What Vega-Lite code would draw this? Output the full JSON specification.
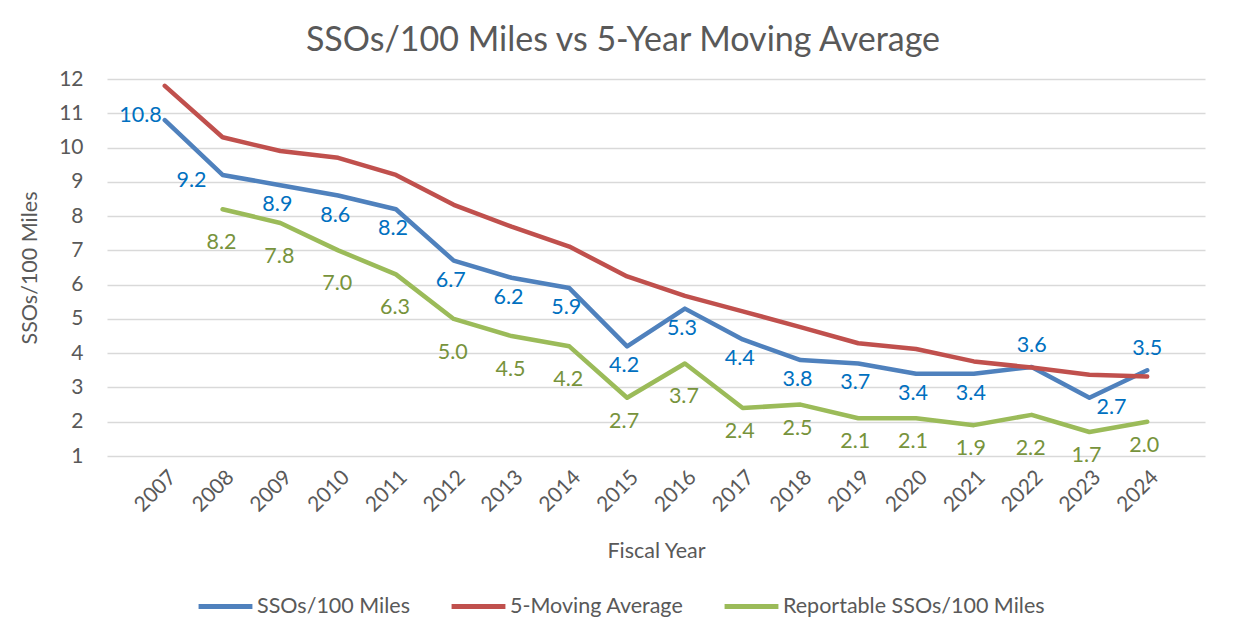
{
  "$schema": "https://vega.github.io/schema/vega-lite/v6.json",
  "width": 1098,
  "height": 377,
  "autosize": {"type": "none"},
  "padding": {"left": 107, "top": 79, "right": 42, "bottom": 188},
  "background": "white",
  "config": {
    "view": {"stroke": null},
    "font": "Lato",
    "text": {"font": "Lato"}
  },
  "title": {
    "text": "SSOs/100 Miles vs 5-Year Moving Average",
    "font": "Lato",
    "fontSize": 34,
    "fontWeight": "normal",
    "color": "#595959",
    "anchor": "middle",
    "dx": -33,
    "offset": 10
  },
  "datasets": {
    "d": [
      {"year": "2007", "series": "SSOs/100 Miles", "value": 10.8},
      {"year": "2008", "series": "SSOs/100 Miles", "value": 9.2},
      {"year": "2009", "series": "SSOs/100 Miles", "value": 8.9},
      {"year": "2010", "series": "SSOs/100 Miles", "value": 8.6},
      {"year": "2011", "series": "SSOs/100 Miles", "value": 8.2},
      {"year": "2012", "series": "SSOs/100 Miles", "value": 6.7},
      {"year": "2013", "series": "SSOs/100 Miles", "value": 6.2},
      {"year": "2014", "series": "SSOs/100 Miles", "value": 5.9},
      {"year": "2015", "series": "SSOs/100 Miles", "value": 4.2},
      {"year": "2016", "series": "SSOs/100 Miles", "value": 5.3},
      {"year": "2017", "series": "SSOs/100 Miles", "value": 4.4},
      {"year": "2018", "series": "SSOs/100 Miles", "value": 3.8},
      {"year": "2019", "series": "SSOs/100 Miles", "value": 3.7},
      {"year": "2020", "series": "SSOs/100 Miles", "value": 3.4},
      {"year": "2021", "series": "SSOs/100 Miles", "value": 3.4},
      {"year": "2022", "series": "SSOs/100 Miles", "value": 3.6},
      {"year": "2023", "series": "SSOs/100 Miles", "value": 2.7},
      {"year": "2024", "series": "SSOs/100 Miles", "value": 3.5},
      {"year": "2007", "series": "5-Moving Average", "value": 11.8},
      {"year": "2008", "series": "5-Moving Average", "value": 10.3},
      {"year": "2009", "series": "5-Moving Average", "value": 9.9},
      {"year": "2010", "series": "5-Moving Average", "value": 9.7},
      {"year": "2011", "series": "5-Moving Average", "value": 9.2},
      {"year": "2012", "series": "5-Moving Average", "value": 8.33},
      {"year": "2013", "series": "5-Moving Average", "value": 7.69},
      {"year": "2014", "series": "5-Moving Average", "value": 7.11},
      {"year": "2015", "series": "5-Moving Average", "value": 6.24},
      {"year": "2016", "series": "5-Moving Average", "value": 5.67},
      {"year": "2017", "series": "5-Moving Average", "value": 5.22},
      {"year": "2018", "series": "5-Moving Average", "value": 4.76},
      {"year": "2019", "series": "5-Moving Average", "value": 4.29},
      {"year": "2020", "series": "5-Moving Average", "value": 4.12},
      {"year": "2021", "series": "5-Moving Average", "value": 3.76},
      {"year": "2022", "series": "5-Moving Average", "value": 3.58},
      {"year": "2023", "series": "5-Moving Average", "value": 3.37},
      {"year": "2024", "series": "5-Moving Average", "value": 3.32},
      {"year": "2008", "series": "Reportable SSOs/100 Miles", "value": 8.2},
      {"year": "2009", "series": "Reportable SSOs/100 Miles", "value": 7.8},
      {"year": "2010", "series": "Reportable SSOs/100 Miles", "value": 7.0},
      {"year": "2011", "series": "Reportable SSOs/100 Miles", "value": 6.3},
      {"year": "2012", "series": "Reportable SSOs/100 Miles", "value": 5.0},
      {"year": "2013", "series": "Reportable SSOs/100 Miles", "value": 4.5},
      {"year": "2014", "series": "Reportable SSOs/100 Miles", "value": 4.2},
      {"year": "2015", "series": "Reportable SSOs/100 Miles", "value": 2.7},
      {"year": "2016", "series": "Reportable SSOs/100 Miles", "value": 3.7},
      {"year": "2017", "series": "Reportable SSOs/100 Miles", "value": 2.4},
      {"year": "2018", "series": "Reportable SSOs/100 Miles", "value": 2.5},
      {"year": "2019", "series": "Reportable SSOs/100 Miles", "value": 2.1},
      {"year": "2020", "series": "Reportable SSOs/100 Miles", "value": 2.1},
      {"year": "2021", "series": "Reportable SSOs/100 Miles", "value": 1.9},
      {"year": "2022", "series": "Reportable SSOs/100 Miles", "value": 2.2},
      {"year": "2023", "series": "Reportable SSOs/100 Miles", "value": 1.7},
      {"year": "2024", "series": "Reportable SSOs/100 Miles", "value": 2.0}
    ]
  },
  "data": {"name": "d"},
  "encoding": {
    "x": {
      "field": "year",
      "type": "ordinal",
      "scale": {"type": "point", "padding": 1},
      "axis": {
        "title": "Fiscal Year",
        "titleFont": "Lato",
        "titleFontSize": 21.5,
        "titleFontWeight": "normal",
        "titleColor": "#595959",
        "titlePadding": 25,
        "labelAngle": -45,
        "labelFont": "Lato",
        "labelFontSize": 21,
        "labelColor": "#595959",
        "labelPadding": 10,
        "domain": false,
        "ticks": false,
        "grid": false
      }
    },
    "y": {
      "field": "value",
      "type": "quantitative",
      "scale": {"domain": [1, 12], "nice": false, "zero": false},
      "axis": {
        "title": "SSOs/100 Miles",
        "titleFont": "Lato",
        "titleFontSize": 21.5,
        "titleFontWeight": "normal",
        "titleColor": "#595959",
        "titlePadding": 17,
        "values": [1, 2, 3, 4, 5, 6, 7, 8, 9, 10, 11, 12],
        "labelFont": "Lato",
        "labelFontSize": 21,
        "labelColor": "#595959",
        "labelPadding": 24,
        "domain": false,
        "ticks": false,
        "grid": true,
        "gridColor": "#D9D9D9",
        "gridWidth": 1.5
      }
    }
  },
  "layer": [
    {
      "mark": {"type": "line", "strokeWidth": 4.5, "strokeCap": "round", "strokeJoin": "round"},
      "encoding": {
        "color": {
          "field": "series",
          "type": "nominal",
          "sort": ["SSOs/100 Miles", "5-Moving Average", "Reportable SSOs/100 Miles"],
          "scale": {
            "domain": ["SSOs/100 Miles", "5-Moving Average", "Reportable SSOs/100 Miles"],
            "range": ["#4F81BD", "#C0504D", "#9BBB59"]
          },
          "legend": {
            "orient": "none",
            "legendX": 89,
            "legendY": 498,
            "direction": "horizontal",
            "title": null,
            "symbolType": "stroke",
            "symbolSize": 2900,
            "symbolStrokeWidth": 5,
            "labelFont": "Lato",
            "labelFontSize": 21.5,
            "labelColor": "#595959",
            "labelOffset": 2,
            "columnPadding": 30,
            "labelLimit": 400
          }
        }
      }
    },
    {
      "transform": [
        {"filter": "datum.series === 'SSOs/100 Miles' && indexof(['2007','2008','2022','2023','2024'], datum.year) < 0"}
      ],
      "mark": {"type": "text", "fontSize": 21.5, "color": "#0070C0", "dx": -3, "dy": 20},
      "encoding": {"text": {"field": "value", "type": "quantitative", "format": ".1f"}}
    },
    {
      "transform": [
        {"filter": "datum.series === 'SSOs/100 Miles' && datum.year === '2007'"}
      ],
      "mark": {"type": "text", "fontSize": 21.5, "color": "#0070C0", "align": "right", "dx": -3, "dy": -4},
      "encoding": {"text": {"field": "value", "type": "quantitative", "format": ".1f"}}
    },
    {
      "transform": [
        {"filter": "datum.series === 'SSOs/100 Miles' && datum.year === '2008'"}
      ],
      "mark": {"type": "text", "fontSize": 21.5, "color": "#0070C0", "align": "right", "dx": -16, "dy": 6},
      "encoding": {"text": {"field": "value", "type": "quantitative", "format": ".1f"}}
    },
    {
      "transform": [
        {"filter": "datum.series === 'SSOs/100 Miles' && (datum.year === '2022' || datum.year === '2024')"}
      ],
      "mark": {"type": "text", "fontSize": 21.5, "color": "#0070C0", "dy": -21},
      "encoding": {"text": {"field": "value", "type": "quantitative", "format": ".1f"}}
    },
    {
      "transform": [
        {"filter": "datum.series === 'SSOs/100 Miles' && datum.year === '2023'"}
      ],
      "mark": {"type": "text", "fontSize": 21.5, "color": "#0070C0", "dx": 22, "dy": 10},
      "encoding": {"text": {"field": "value", "type": "quantitative", "format": ".1f"}}
    },
    {
      "transform": [
        {"filter": "datum.series === 'Reportable SSOs/100 Miles' && indexof(['2015','2017','2018','2019','2020','2021','2023','2024'], datum.year) < 0"}
      ],
      "mark": {"type": "text", "fontSize": 21.5, "color": "#77933C", "dx": -1, "dy": 34},
      "encoding": {"text": {"field": "value", "type": "quantitative", "format": ".1f"}}
    },
    {
      "transform": [
        {"filter": "datum.series === 'Reportable SSOs/100 Miles' && indexof(['2015','2017','2018','2019','2020','2021','2023','2024'], datum.year) >= 0"}
      ],
      "mark": {"type": "text", "fontSize": 21.5, "color": "#77933C", "dx": -3, "dy": 24},
      "encoding": {"text": {"field": "value", "type": "quantitative", "format": ".1f"}}
    }
  ]
}
